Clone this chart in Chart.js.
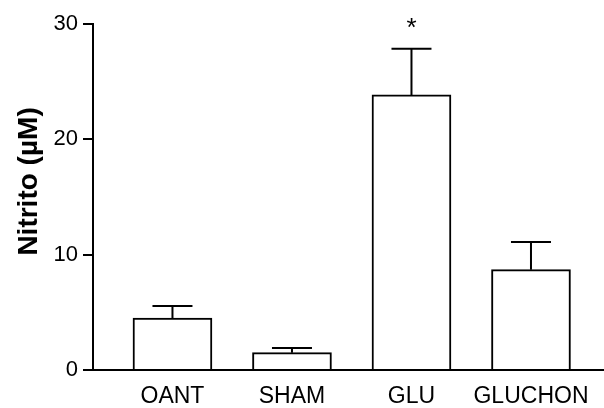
<!DOCTYPE html>
<html lang="pt">
<head>
    <meta charset="UTF-8">
    <title>Nitrito</title>
    <script src="https://cdn.jsdelivr.net/npm/chart.js"></script>
    <style>
        body { margin: 0; background: #fff; }
        .chart-box { width: 604px; height: 408px; }
    </style>
</head>
<body>
    <div class="chart-box">
        <canvas id="nitritoChart"></canvas>
    </div>

    <script>
        // Dados
        const grupos = ['OANT', 'SHAM', 'GLU', 'GLUCHON'];
        const medias = [4.5, 1.5, 23.85, 8.7];
        const erros = [1.05, 0.4, 4.0, 2.4];
        const significativo = [false, false, true, false];
        const yTicks = [0, 10, 20, 30];

        const fonte = 'Liberation Sans, Arial, Helvetica, sans-serif';

        // barras de erro (só para cima) e asterisco
        const errorBars = {
            id: 'errorBars',
            afterDatasetsDraw(chart) {
                const ctx = chart.ctx;
                const meta = chart.getDatasetMeta(0);
                const yScale = chart.scales.y;
                ctx.save();
                ctx.strokeStyle = '#000';
                ctx.lineWidth = 2;
                meta.data.forEach((bar, i) => {
                    const yTop = yScale.getPixelForValue(medias[i]);
                    const yErr = yScale.getPixelForValue(medias[i] + erros[i]);
                    ctx.beginPath();
                    ctx.moveTo(bar.x, yTop);
                    ctx.lineTo(bar.x, yErr);
                    ctx.moveTo(bar.x - 20, yErr);
                    ctx.lineTo(bar.x + 20, yErr);
                    ctx.stroke();
                    if (significativo[i]) {
                        ctx.fillStyle = '#000';
                        ctx.font = '26px ' + fonte;
                        ctx.textAlign = 'center';
                        ctx.textBaseline = 'alphabetic';
                        ctx.fillText('*', bar.x, yErr - 13);
                    }
                });
                ctx.restore();
            }
        };

        new Chart(document.getElementById('nitritoChart'), {
            type: 'bar',
            data: {
                datasets: [{
                    data: medias.map((v, i) => ({ x: i, y: v })),
                    backgroundColor: '#fff',
                    borderColor: '#000',
                    borderWidth: 2,
                    borderSkipped: 'start',
                    barThickness: 79
                }]
            },
            options: {
                responsive: true,
                maintainAspectRatio: false,
                animation: false,
                layout: { padding: { top: 24, right: 0, left: 0, bottom: 0 } },
                plugins: {
                    legend: { display: false },
                    tooltip: { enabled: false }
                },
                scales: {
                    x: {
                        type: 'linear',
                        offset: false,
                        min: -0.665,
                        max: 3.611,
                        grid: { display: false },
                        border: { display: true, color: '#000', width: 2 },
                        afterBuildTicks: (scale) => {
                            scale.ticks = grupos.map((g, i) => ({ value: i }));
                        },
                        afterFit: (scale) => { scale.height = 38; },
                        ticks: {
                            color: '#000',
                            padding: 5,
                            font: { family: fonte, size: 23 },
                            callback: (v) => grupos[v]
                        }
                    },
                    y: {
                        min: 0,
                        max: 30,
                        afterBuildTicks: (scale) => {
                            scale.ticks = yTicks.map(v => ({ value: v }));
                        },
                        afterFit: (scale) => { scale.width = 93; },
                        grid: {
                            drawOnChartArea: false,
                            drawTicks: true,
                            tickLength: 10,
                            color: '#000',
                            lineWidth: 2
                        },
                        border: { display: true, color: '#000', width: 2 },
                        ticks: {
                            color: '#000',
                            padding: 5,
                            font: { family: fonte, size: 22 }
                        },
                        title: {
                            display: true,
                            // espaços iniciais deslocam o título um pouco para cima
                            text: '    Nitrito (µM)',
                            color: '#000',
                            padding: { top: 12, bottom: 0 },
                            font: { family: fonte, size: 28, weight: 'bold' }
                        }
                    }
                }
            },
            plugins: [errorBars]
        });
    </script>
</body>
</html>
